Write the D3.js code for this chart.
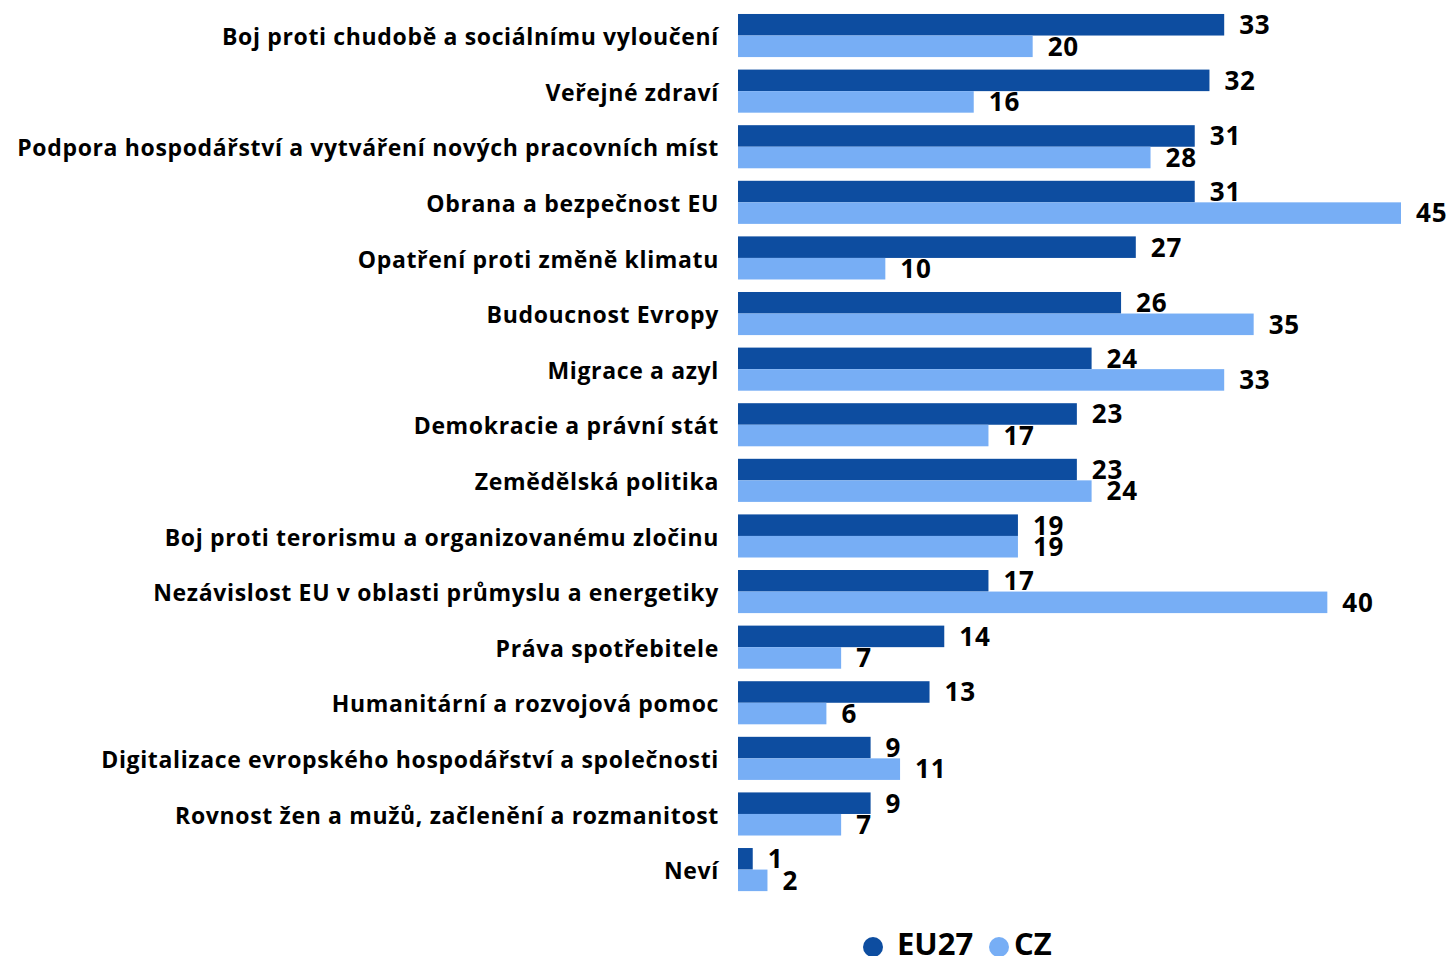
<!DOCTYPE html>
<html>
<head>
<meta charset="utf-8">
<script src="https://cdn.jsdelivr.net/npm/d3@7"></script>
<style>
  body { margin: 0; background: #fff; }
  svg { display: block; font-family: "Open Sans", "Noto Sans", sans-serif; font-weight: 700; }
</style>
</head>
<body>
<svg id="chart" width="1451" height="956"></svg>
<script>
var categories = [
  "Boj proti chudobě a sociálnímu vyloučení",
  "Veřejné zdraví",
  "Podpora hospodářství a vytváření nových pracovních míst",
  "Obrana a bezpečnost EU",
  "Opatření proti změně klimatu",
  "Budoucnost Evropy",
  "Migrace a azyl",
  "Demokracie a právní stát",
  "Zemědělská politika",
  "Boj proti terorismu a organizovanému zločinu",
  "Nezávislost EU v oblasti průmyslu a energetiky",
  "Práva spotřebitele",
  "Humanitární a rozvojová pomoc",
  "Digitalizace evropského hospodářství a společnosti",
  "Rovnost žen a mužů, začlenění a rozmanitost",
  "Neví"
];
var eu27 = [33, 32, 31, 31, 27, 26, 24, 23, 23, 19, 17, 14, 13, 9, 9, 1];
var cz   = [20, 16, 28, 45, 10, 35, 33, 17, 24, 19, 40, 7, 6, 11, 7, 2];
var seriesNames = ["EU27", "CZ"];
var colors = ["#0d4da0", "#77aef5"];

var svg = d3.select("#chart");
var x0 = 738;

var data = categories.map(function(c, i) {
  return { cat: c, values: [eu27[i], cz[i]] };
});

var x = d3.scaleLinear().domain([0, 45]).range([x0, 1401]);

var y = d3.scaleBand()
    .domain(categories)
    .range([-2.7, 907.8])
    .paddingInner(0.225)
    .paddingOuter(0.3);

var y1 = d3.scaleBand()
    .domain([0, 1])
    .range([0, y.bandwidth()]);

var groups = svg.append("g")
  .selectAll("g")
  .data(data)
  .enter().append("g")
    .attr("transform", function(d) { return "translate(0," + y(d.cat) + ")"; });

groups.selectAll("rect")
  .data(function(d) { return d.values; })
  .enter().append("rect")
    .attr("x", x(0))
    .attr("y", function(d, i) { return y1(i); })
    .attr("width", function(d) { return x(d) - x(0); })
    .attr("height", y1.bandwidth())
    .attr("fill", function(d, i) { return colors[i]; });

groups.selectAll("text.val")
  .data(function(d) { return d.values; })
  .enter().append("text")
    .attr("class", "val")
    .attr("x", function(d) { return x(d) + 15; })
    .attr("y", function(d, i) { return y1(i) + y1.bandwidth() / 2; })
    .attr("dy", "0.36em")
    .attr("font-size", 26)
    .attr("letter-spacing", 0.8)
    .attr("fill", "#000")
    .text(function(d) { return d; });

// category labels
svg.append("g")
  .selectAll("text")
  .data(categories)
  .enter().append("text")
    .attr("x", 719)
    .attr("y", function(d) { return y(d) + y.bandwidth() / 2; })
    .attr("dy", "0.42em")
    .attr("text-anchor", "end")
    .attr("font-size", 23)
    .attr("letter-spacing", 0.65)
    .attr("fill", "#000")
    .text(function(d) { return d; });

// legend
var legend = svg.append("g").attr("transform", "translate(0,955)");
var legendX = [873, 999];
seriesNames.forEach(function(name, i) {
  legend.append("circle")
    .attr("cx", legendX[i])
    .attr("cy", -8)
    .attr("r", 10)
    .attr("fill", colors[i]);
  legend.append("text")
    .attr("x", legendX[i] + (i == 0 ? 24 : 15))
    .attr("y", 0)
    .attr("font-size", 31)
    .attr("fill", "#000")
    .text(name);
});
</script>
</body>
</html>
